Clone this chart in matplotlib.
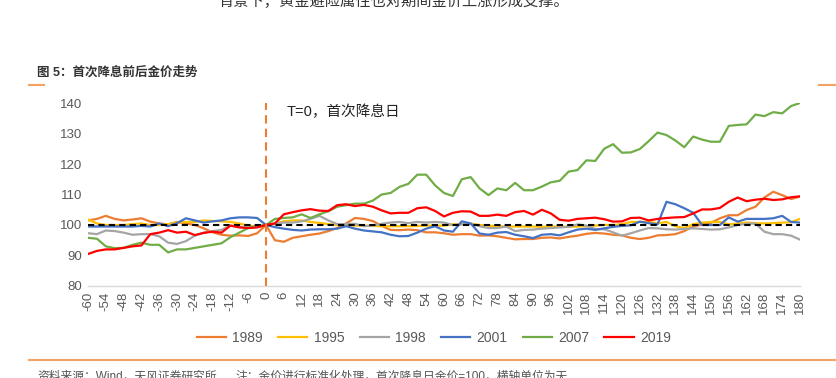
import matplotlib
matplotlib.use("Agg")
import matplotlib.pyplot as plt
from matplotlib.lines import Line2D
import numpy as np

plt.rcParams['font.family'] = ['Liberation Sans', 'Noto Sans CJK SC']

# days relative to first rate cut, every 3 days
days = list(range(-60, 181, 3))

gold_1989 = [101.5, 102, 103, 102, 101.5, 101.8, 102.2, 101.1, 100.5, 100.2, 101, 100.5, 100, 98.9, 97.6, 96.8, 96.5, 96.6, 96.4, 97.3, 100,
             95, 94.5, 95.8, 96.3, 96.8, 97.2, 98, 99, 100.5, 102.3, 102, 101.3, 99.7, 98.4, 98.3, 98.5, 98.3, 97.6, 97.6, 97.3,
             96.8, 97, 97, 96.5, 96.6, 96.3, 95.8, 95.3, 95.4, 95.4, 95.8, 95.9, 95.6, 96.1, 96.5, 97.1, 97.4, 97.2, 96.8, 96.6,
             95.8, 95.4, 95.8, 96.6, 96.7, 97, 98, 99.5, 100.2, 100.7, 102.2, 103.2, 103.2, 104.9, 106, 109, 110.9, 109.8, 108.5, 109.3]
gold_1995 = [101.8, 100.5, 100, 100, 100, 100.3, 100.5, 100, 100, 100.3, 100.8, 101, 101, 101.5, 101.3, 101.2, 101, 100.5, 99.8, 99.5, 100,
             100.5, 101.2, 101.5, 101.5, 101, 100.7, 100.3, 100, 100, 99.8, 99.8, 99.7, 99.6, 99.6, 99.6, 99.6, 99.7, 99.8, 99.8, 99.8,
             100.2, 100.3, 100.5, 100, 99.8, 99.6, 99.5, 99.5, 99.5, 99.5, 99.4, 99.5, 99.5, 99.4, 99.5, 99.6, 99.8, 100, 100, 100.3,
             101, 101, 101, 100.6, 101, 99.6, 99, 100.3, 100.8, 101, 101, 100.2, 100.5, 100.8, 100.6, 100.5, 100.6, 100.8, 100.9, 102]
gold_1998 = [97.3, 97, 98.2, 98, 97.5, 96.8, 97, 97, 96.3, 94.2, 93.8, 94.7, 96.5, 97.5, 98, 98.4, 99.8, 99.4, 99.2, 99.6, 100,
             100.5, 100.8, 100.8, 101.2, 102, 103, 101.5, 100.3, 100.3, 100.4, 99.6, 99.8, 100.4, 100.8, 101, 100.6, 101, 100.8, 101, 100.8,
             100, 100.2, 100.4, 99.6, 99, 99, 99.5, 98, 98.4, 98.5, 98.8, 99, 99.2, 99.4, 100.2, 99.8, 98.7, 98.6, 97.6, 96.5,
             97.3, 98.2, 99, 98.9, 98.6, 98.5, 98.7, 98.9, 98.7, 98.5, 98.6, 99.2, 100, 100.4, 100.5, 97.8, 97, 97, 96.5, 95.2]
gold_2001 = [99.5, 99.5, 99.5, 99.5, 99.5, 99.5, 99.7, 99.5, 100.5, 99.6, 100.6, 102.2, 101.5, 100.8, 101.2, 101.5, 102.2, 102.5, 102.5, 102.3, 100,
             99.3, 98.8, 98.4, 98.2, 98.5, 98.6, 98.6, 98.8, 99.6, 98.8, 98.2, 97.9, 97.6, 96.8, 96.3, 96.4, 97.5, 98.8, 99.6, 98.2,
             97.8, 101.2, 100.5, 97.2, 96.8, 97.5, 97.7, 96.8, 96.3, 95.7, 96.8, 97, 96.6, 97.6, 98.5, 98.8, 98.4, 98.9, 99.4, 99.7,
             99.9, 101.1, 100.6, 100.2, 107.6, 106.8, 105.5, 104, 100, 100, 100, 102.5, 101.1, 102, 102, 102, 102.2, 103, 101, 100.8]
gold_2007 = [95.8, 95.5, 93, 92.4, 92.5, 93.5, 94.2, 93.5, 93.5, 91, 92, 92, 92.5, 93, 93.5, 94, 96, 97.5, 99, 99.5, 100,
             102, 102.3, 102.5, 103.5, 102.3, 103.5, 104.5, 106, 106.5, 107, 107, 108, 110, 110.5, 112.5, 113.5, 116.5, 116.5, 113, 110.5,
             109.5, 115, 115.7, 112, 109.8, 112, 111.4, 113.8, 111.4, 111.4, 112.6, 114, 114.5, 117.5, 118, 121.2, 121, 125, 126.5, 123.7,
             123.8, 124.9, 127.5, 130.3, 129.5, 127.7, 125.5, 129, 128, 127.3, 127.3, 132.5, 132.8, 133, 136.2, 135.7, 137, 136.6, 139, 140]
gold_2019 = [90.5, 91.5, 92, 92, 92.5, 93, 93.3, 97, 97.5, 98.3, 97.5, 97.8, 96.7, 97.4, 97.8, 97.5, 99.8, 99.2, 99, 99.2, 100,
             100.5, 103.5, 104.2, 104.8, 105.2, 104.7, 104.6, 106.5, 106.8, 106.2, 106.6, 106, 104.8, 103.8, 104, 104, 105.5, 105.8, 104.6, 102.8,
             104, 104.5, 104.4, 103, 103, 103.4, 103, 104.2, 104.6, 103.4, 105, 103.8, 101.7, 101.4, 102, 102.2, 102.4, 101.9, 101.1, 101.2,
             102.3, 102.4, 101.5, 102, 102.3, 102.5, 102.6, 103.8, 105.1, 105.1, 105.6, 107.6, 109, 107.8, 108.3, 108.6, 108.2, 108.4, 109.1, 109.4]

series = [("1989", gold_1989, "#ED7D31"),
          ("1995", gold_1995, "#FFC000"),
          ("1998", gold_1998, "#A5A5A5"),
          ("2001", gold_2001, "#4472C4"),
          ("2007", gold_2007, "#70AD47"),
          ("2019", gold_2019, "#FF0000")]

fig = plt.figure(figsize=(8.36, 3.78), dpi=100)
ax = fig.add_axes([0.1053, 0.2434, 0.8516, 0.4841])

handles = []
for name, vals, col in series:
    z = 3 if name == "2019" else 2
    ln, = ax.plot(days, vals, color=col, lw=1.6, label=name, zorder=z)
    handles.append(ln)

ax.axhline(100, color="black", lw=1.5, dashes=(3, 2), zorder=2.5)
ax.axvline(0, color="#ED7D31", lw=1.5, dashes=(4, 2.5), zorder=4)
ax.text(7, 137, "T=0，首次降息日", fontsize=10.5, color="#222222", va="center")

ax.set_xlim(-60, 180)
ax.set_ylim(80, 140)
xt = np.arange(-60, 181, 6)
ax.set_xticks(xt)
ax.set_xticklabels([str(v) for v in xt], rotation=90)
ax.set_yticks(np.arange(80, 141, 10))
ax.tick_params(length=0, labelsize=9.5, colors="#595959", pad=4)
for s in ["top", "right", "left"]:
    ax.spines[s].set_visible(False)
ax.spines["bottom"].set_color("#D9D9D9")
ax.spines["bottom"].set_linewidth(1.0)

fig.legend(handles, [h.get_label() for h in handles], loc="center",
           bbox_to_anchor=(0.519, 0.106), ncol=6, frameon=False, fontsize=10,
           handlelength=2.1, handletextpad=0.45, columnspacing=1.1,
           labelcolor="#595959")

# page text around the chart
fig.text(0.471, 1 - 1 / 378, "背景下，黄金避险属性也对期间金价上涨形成支撑。",
         ha="center", va="center", fontsize=11, color="#333333")
fig.text(37 / 836, 1 - 72 / 378, "图 5：首次降息前后金价走势", ha="left", va="center",
         fontsize=9, fontweight="bold", color="#333333")
fig.text(37 / 836, 1 - 377 / 378, "资料来源：Wind，天风证券研究所", ha="left", va="center",
         fontsize=8.5, color="#555555")
fig.text(235 / 836, 1 - 377 / 378, "注：金价进行标准化处理，首次降息日金价=100，横轴单位为天",
         ha="left", va="center", fontsize=8.5, color="#555555")

orange = "#F4A261"
fig.add_artist(Line2D([29 / 836, 44 / 836], [1 - 85 / 378] * 2, color=orange, lw=1.5))
fig.add_artist(Line2D([819 / 836, 1.0], [1 - 85 / 378] * 2, color=orange, lw=1.5))
fig.add_artist(Line2D([29 / 836, 1.0], [1 - 360 / 378] * 2, color=orange, lw=1.5))

fig.savefig("out.png", dpi=100)
